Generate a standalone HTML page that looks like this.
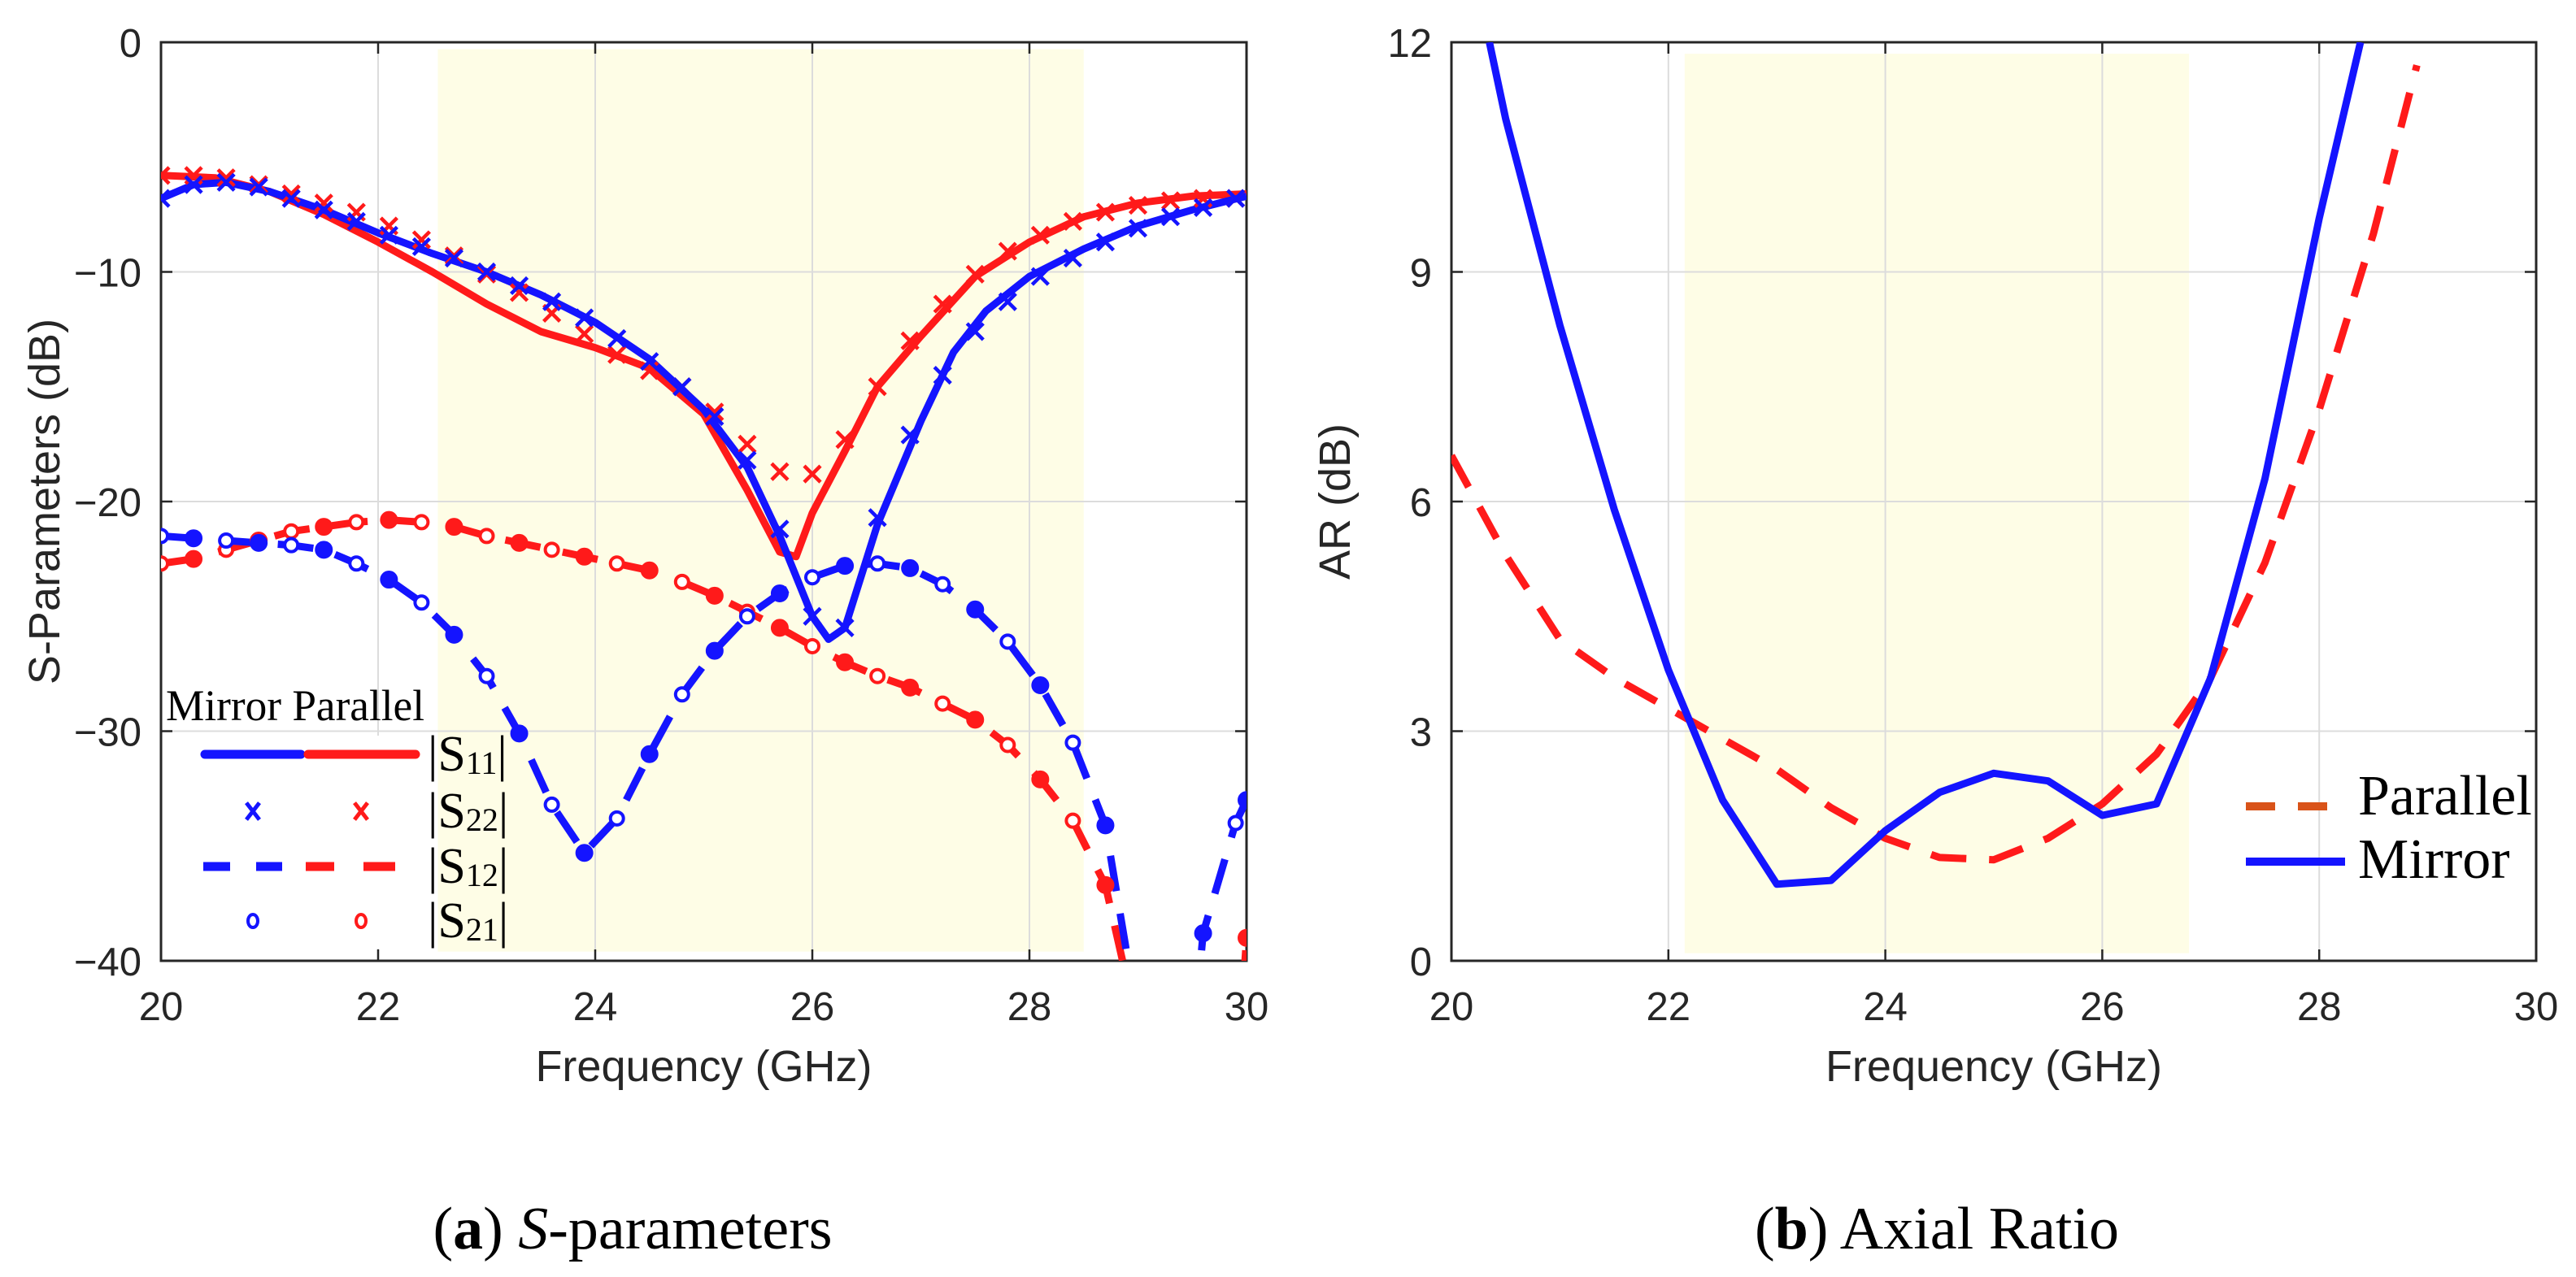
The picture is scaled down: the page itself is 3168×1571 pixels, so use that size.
<!DOCTYPE html>
<html><head><meta charset="utf-8"><style>
html,body{margin:0;padding:0;background:#fff;width:3168px;height:1571px;overflow:hidden;}
svg{display:block;overflow:hidden;}
text{font-family:"Liberation Sans",Arial,sans-serif;fill:#262626;}
.serif{font-family:"Liberation Serif","Times New Roman",serif;fill:#000;}
</style></head><body>
<svg id="svg" width="3168" height="1571" viewBox="0 0 3168 1571" xmlns="http://www.w3.org/2000/svg">
<g id="chartA"></g>
<g id="chartB"></g>
<text class="serif" x="778" y="1536" font-size="74" text-anchor="middle">(<tspan font-weight="bold">a</tspan>) <tspan font-style="italic">S</tspan>-parameters</text>
<text class="serif" x="2382" y="1536" font-size="74" text-anchor="middle">(<tspan font-weight="bold">b</tspan>) Axial Ratio</text>
</svg>
<script>
// ---- Chart A data ----
const freqS = [20,20.3,20.6,20.9,21.2,21.5,21.8,22.1,22.4,22.7,23,23.3,23.6,23.9,24.2,24.5,24.8,25.1,25.4,25.7,26,26.3,26.6,26.9,27.2,27.5,27.8,28.1,28.4,28.7,29,29.3,29.6,29.9];
const s11MirrorF = [20,20.3,20.6,21,21.5,22,22.5,23,23.5,24,24.5,25,25.4,25.7,26,26.15,26.3,26.6,27,27.3,27.6,28,28.5,29,29.5,30];
const s11Mirror = [-6.8,-6.2,-6.1,-6.5,-7.3,-8.3,-9.2,-10.0,-11.0,-12.2,-13.8,-16.0,-18.5,-21.5,-25.0,-26.0,-25.5,-21.0,-16.5,-13.5,-11.7,-10.2,-9.0,-8.0,-7.3,-6.7];
const s11ParallelF = [20,20.5,21,21.5,22,22.5,23,23.5,24,24.5,25,25.4,25.7,25.85,26,26.3,26.6,27,27.5,28,28.5,29,29.5,30];
const s11Parallel = [-5.8,-5.9,-6.5,-7.5,-8.7,-10.0,-11.4,-12.6,-13.3,-14.2,-16.2,-19.5,-22.2,-22.4,-20.5,-17.8,-15.0,-12.8,-10.2,-8.7,-7.6,-7.0,-6.7,-6.6];
const s22Mirror = [-6.8,-6.2,-6.1,-6.3,-6.8,-7.3,-7.8,-8.4,-8.9,-9.4,-10.0,-10.6,-11.3,-12.0,-12.9,-13.9,-15.0,-16.3,-18.2,-21.2,-25.0,-25.5,-20.7,-17.1,-14.5,-12.6,-11.3,-10.2,-9.4,-8.7,-8.1,-7.6,-7.2,-6.8];
const s22Parallel = [-5.8,-5.8,-5.9,-6.2,-6.6,-7.0,-7.4,-8.0,-8.6,-9.3,-10.1,-10.9,-11.8,-12.7,-13.6,-14.3,-15.0,-16.1,-17.5,-18.7,-18.8,-17.3,-15.0,-13.0,-11.4,-10.1,-9.1,-8.4,-7.8,-7.4,-7.1,-6.9,-6.8,-6.8];
const s12MirrorF = [20,20.3,20.6,20.9,21.2,21.5,21.8,22.1,22.4,22.7,23,23.3,23.6,23.9,24.2,24.5,24.8,25.1,25.4,25.7,26,26.3,26.6,26.9,27.2,27.5,27.8,28.1,28.4,28.7,29.05,29.25,29.5,29.6,29.9,30];
const s12Mirror = [-21.5,-21.6,-21.7,-21.8,-21.9,-22.1,-22.7,-23.4,-24.4,-25.8,-27.6,-30.1,-33.2,-35.3,-33.8,-31.0,-28.4,-26.5,-25.0,-24.0,-23.3,-22.8,-22.7,-22.9,-23.6,-24.7,-26.1,-28.0,-30.5,-34.1,-44,-44,-44,-38.8,-34.0,-33.0];
const s12ParallelF = [20,20.3,20.6,20.9,21.2,21.5,21.8,22.1,22.4,22.7,23,23.3,23.6,23.9,24.2,24.5,24.8,25.1,25.4,25.7,26,26.3,26.6,26.9,27.2,27.5,27.8,28.1,28.4,28.7,29.05,29.5,29.93,30];
const s12Parallel = [-22.7,-22.5,-22.1,-21.7,-21.3,-21.1,-20.9,-20.8,-20.9,-21.1,-21.5,-21.8,-22.1,-22.4,-22.7,-23.0,-23.5,-24.1,-24.8,-25.5,-26.3,-27.0,-27.6,-28.1,-28.8,-29.5,-30.6,-32.1,-33.9,-36.7,-44,-44,-44,-39.0];
const bandA = [22.55, 28.5];
const xTicksA = [20,22,24,26,28,30];
const yTicksA = [0,-10,-20,-30,-40];

// ---- Chart B data ----
const arMirrorF = [20.35,20.5,21,21.5,22,22.5,23,23.5,24,24.5,25,25.5,26,26.5,27,27.5,28,28.38];
const arMirror = [12,11,8.3,5.9,3.8,2.1,1.0,1.05,1.7,2.2,2.45,2.35,1.9,2.05,3.7,6.3,9.7,12];
const arParallelF = [20,20.5,21,21.5,22,22.5,23,23.5,24,24.5,25,25.5,26,26.5,27,27.5,28,28.5,28.9];
const arParallel = [6.6,5.3,4.2,3.7,3.3,2.9,2.5,2.0,1.6,1.35,1.32,1.6,2.05,2.7,3.7,5.2,7.2,9.5,11.7];
const bandB = [22.15, 26.8];
const xTicksB = [20,22,24,26,28,30];
const yTicksB = [0,3,6,9,12];

const NS="http://www.w3.org/2000/svg";
function mk(parent,tag,attrs){const e=document.createElementNS(NS,tag);for(const k in attrs)e.setAttribute(k,attrs[k]);parent.appendChild(e);return e;}

function axes(x0,x1,y0,y1,xmin,xmax,ymin,ymax){
  const sx=v=>x0+(v-xmin)/(xmax-xmin)*(x1-x0);
  const sy=v=>y1-(v-ymin)/(ymax-ymin)*(y1-y0);
  return {sx,sy};
}
function frame(g,A,x0,x1,y0,y1,xt,yt,ylabel,band,bandY){
  const r=mk(g,'rect',{x:A.sx(band[0]),y:A.sy(bandY[1]),width:A.sx(band[1])-A.sx(band[0]),height:A.sy(bandY[0])-A.sy(bandY[1]),fill:'#fefde6'});
  
  
  xt.forEach(v=>{const x=A.sx(v);
    const l=mk(g,'line',{x1:x,x2:x,y1:y0,y2:y1,stroke:'#dcdcdc','stroke-width':2});
    
    
    mk(g,'line',{x1:x,x2:x,y1:y1,y2:y1-14,stroke:'#262626','stroke-width':2.5});
    mk(g,'line',{x1:x,x2:x,y1:y0,y2:y0+14,stroke:'#262626','stroke-width':2.5});
    const t=mk(g,'text',{x:x,y:1255,'font-size':49,'text-anchor':'middle'});t.textContent=v;
    
    
  });
  yt.forEach(v=>{const y=A.sy(v);
    const l=mk(g,'line',{x1:x0,x2:x1,y1:y,y2:y,stroke:'#dcdcdc','stroke-width':2});
    
    
    mk(g,'line',{x1:x0,x2:x0+14,y1:y,y2:y,stroke:'#262626','stroke-width':2.5});
    mk(g,'line',{x1:x1,x2:x1-14,y1:y,y2:y,stroke:'#262626','stroke-width':2.5});
    const t=mk(g,'text',{x:x0-24,y:y+18,'font-size':49,'text-anchor':'end'});t.textContent=(v<0?'\u2212'+(-v):v);
    
    
  });
  const b=mk(g,'rect',{x:x0,y:y0,width:x1-x0,height:y1-y0,fill:'none',stroke:'#262626','stroke-width':3});
  
  
  const xl=mk(g,'text',{x:(x0+x1)/2,y:1330,'font-size':54,'text-anchor':'middle'});xl.textContent='Frequency (GHz)';
  
  
  const yl=mk(g,'text',{x:0,y:0,'font-size':54,'text-anchor':'middle',transform:`translate(${x0-125},${(y0+y1)/2}) rotate(-90)`});yl.textContent=ylabel;
  
  
}
function line(g,A,xs,ys,color,dash,name){
  const d=xs.map((x,i)=>(i?'L':'M')+A.sx(x).toFixed(1)+','+A.sy(ys[i]).toFixed(1)).join('');
  const p=mk(g,'path',{d:d,fill:'none',stroke:color,'stroke-width':9,'stroke-dasharray':dash||'none','stroke-linejoin':'round'});
  
  
}
function crosses(g,A,xs,ys,color,name){
  xs.forEach((x,i)=>{const cx=A.sx(x),cy=A.sy(ys[i]),s=10;
    const p=mk(g,'path',{d:`M${cx-s},${cy-s}L${cx+s},${cy+s}M${cx-s},${cy+s}L${cx+s},${cy-s}`,stroke:color,'stroke-width':4.5,fill:'none'});
    
    
  });
}
function dots(g,A,xs,ys,color,name){
  xs.forEach((x,i)=>{const y=ys[i]; if(y<=-39.9) return;
    const filled=(i%2===1);
    const c=mk(g,'circle',{cx:A.sx(x),cy:A.sy(y),r:filled?9:8,fill:filled?color:'#fff',stroke:color,'stroke-width':4});
    
    
  });
}

// Chart A
const gA=document.getElementById('chartA');
const Ax0=198,Ax1=1533,Ay0=52,Ay1=1182;
const A=axes(Ax0,Ax1,Ay0,Ay1,20,30,-40,0);
frame(gA,A,Ax0,Ax1,Ay0,Ay1,xTicksA,yTicksA,'S-Parameters (dB)',bandA,[-39.6,-0.3]);
const clipA=mk(gA,'clipPath',{id:'clipA'});mk(clipA,'rect',{x:Ax0,y:Ay0,width:Ax1-Ax0,height:Ay1-Ay0});
const pA=mk(gA,'g',{'clip-path':'url(#clipA)'});
line(pA,A,s12ParallelF,s12Parallel,'#ff1a1a','44 28','s12-parallel-line');
line(pA,A,s12MirrorF,s12Mirror,'#1414ff','44 28','s12-mirror-line');
dots(pA,A,s12ParallelF,s12Parallel,'#ff1a1a','s21-parallel-marker');
dots(pA,A,s12MirrorF,s12Mirror,'#1414ff','s21-mirror-marker');
line(pA,A,s11ParallelF,s11Parallel,'#ff1a1a',null,'s11-parallel-line');
line(pA,A,s11MirrorF,s11Mirror,'#1414ff',null,'s11-mirror-line');
crosses(pA,A,freqS,s22Parallel,'#ff1a1a','s22-parallel-marker');
crosses(pA,A,freqS,s22Mirror,'#1414ff','s22-mirror-marker');
</script>
<script>
// legend A
(function(){
const g=document.getElementById('chartA');
const lg=mk(g,'g',{});


mk(lg,'rect',{x:242,y:905,width:296,height:262,fill:'#fff'});
const t=mk(lg,'text',{x:204,y:886,'font-size':54,class:'serif',textLength:318,lengthAdjust:'spacingAndGlyphs'});t.textContent='Mirror Parallel';
const rows=[928,998,1066,1133];
mk(lg,'line',{x1:252,x2:370,y1:rows[0],y2:rows[0],stroke:'#1414ff','stroke-width':11,'stroke-linecap':'round'});
mk(lg,'line',{x1:379,x2:511,y1:rows[0],y2:rows[0],stroke:'#ff1a1a','stroke-width':11,'stroke-linecap':'round'});
const xs=[[311,'#1414ff'],[444,'#ff1a1a']];
xs.forEach(([cx,c])=>{const cy=rows[1],s=8;mk(lg,'path',{d:`M${cx-s},${cy-s*1.3}L${cx+s},${cy+s*1.3}M${cx-s},${cy+s*1.3}L${cx+s},${cy-s*1.3}`,stroke:c,'stroke-width':5});
  mk(lg,'ellipse',{cx:cx,cy:rows[3],rx:6,ry:8,fill:'#fff',stroke:c,'stroke-width':4});});
mk(lg,'line',{x1:250,x2:283,y1:rows[2],y2:rows[2],stroke:'#1414ff','stroke-width':11});
mk(lg,'line',{x1:315,x2:347,y1:rows[2],y2:rows[2],stroke:'#1414ff','stroke-width':11});
mk(lg,'line',{x1:376,x2:411,y1:rows[2],y2:rows[2],stroke:'#ff1a1a','stroke-width':11});
mk(lg,'line',{x1:447,x2:486,y1:rows[2],y2:rows[2],stroke:'#ff1a1a','stroke-width':11});
['11','22','12','21'].forEach((s,i)=>{const tt=mk(lg,'text',{x:526,y:rows[i]+20,'font-size':62,class:'serif'});
  tt.innerHTML='|S<tspan font-size="40" dy="4">'+s+'</tspan><tspan dy="-4">|</tspan>';
  
  });
})();

// Chart B
const gB=document.getElementById('chartB');
const Bx0=1785,Bx1=3119,By0=52,By1=1182;
const B=axes(Bx0,Bx1,By0,By1,20,30,0,12);
frame(gB,B,Bx0,Bx1,By0,By1,xTicksB,yTicksB,'AR (dB)',bandB,[0.1,11.85]);
const clipB=mk(gB,'clipPath',{id:'clipB'});mk(clipB,'rect',{x:Bx0,y:By0,width:Bx1-Bx0,height:By1-By0});
const pB=mk(gB,'g',{'clip-path':'url(#clipB)'});
line(pB,B,arParallelF,arParallel,'#ff1a1a','44 28','ar-parallel-line');
line(pB,B,arMirrorF,arMirror,'#1414ff',null,'ar-mirror-line');
(function(){
const lg=mk(gB,'g',{});


mk(lg,'line',{x1:2762,x2:2862,y1:992,y2:992,stroke:'#d95319','stroke-width':10,'stroke-dasharray':'36 28'});
mk(lg,'line',{x1:2762,x2:2884,y1:1060,y2:1060,stroke:'#1414ff','stroke-width':10});
const a=mk(lg,'text',{x:2900,y:1002,'font-size':70,class:'serif'});a.textContent='Parallel';


const b=mk(lg,'text',{x:2900,y:1080,'font-size':70,class:'serif'});b.textContent='Mirror';


})();
</script>
</body></html>
